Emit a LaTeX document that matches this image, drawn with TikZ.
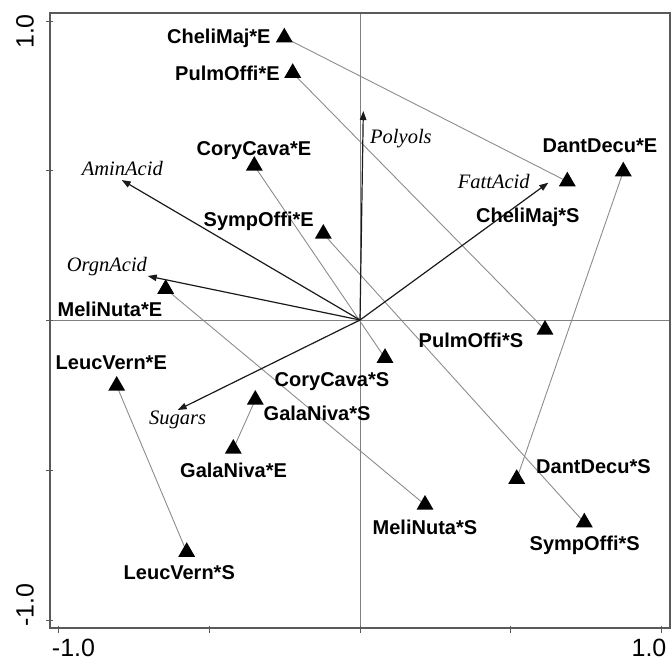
\documentclass[tikz,border=0pt]{standalone}
\usepackage{fontspec}
\setmainfont{Liberation Serif}
\setsansfont{Liberation Sans}
\usetikzlibrary{arrows.meta,shapes.geometric,backgrounds}
\definecolor{framecol}{HTML}{5A5A5A}
\definecolor{axiscol}{HTML}{808080}
\definecolor{linkcol}{HTML}{8C8C8C}
\definecolor{arrcol}{HTML}{1A1A1A}
\tikzset{
  pt/.style={regular polygon, regular polygon sides=3, minimum size=19.6pt, inner sep=0pt, fill=black},
  lab/.style={anchor=base west, inner sep=0pt, font=\sffamily\bfseries\fontsize{20}{21}\selectfont},
  vlab/.style={anchor=base west, inner sep=0pt, font=\rmfamily\itshape\fontsize{20.5}{21}\selectfont},
  tlab/.style={inner sep=0pt, font=\sffamily\fontsize{25}{26}\selectfont},
  link/.style={draw=linkcol, line width=0.9pt},
  vec/.style={draw=arrcol, line width=1.2pt, -{Triangle[length=9pt,width=6.5pt]}},
  axisline/.style={draw=axiscol, line width=0.9pt},
  tick/.style={draw=framecol, line width=1pt}
}
\begin{document}
\begin{tikzpicture}[x=1pt,y=-1pt]
\useasboundingbox (0,0) rectangle (671,664);
% frame corners and axes
\coordinate (fnw) at (50,13.3);
\coordinate (fse) at (670,628.3);
\coordinate (o) at (360,320);
\coordinate (ytop) at (360,13.3);
\coordinate (ybot) at (360,628.3);
\coordinate (xl) at (50,320);
\coordinate (xr) at (670,320);
\draw[axisline] (ytop) -- (ybot);
\draw[axisline] (xl) -- (xr);
\draw[draw=framecol, line width=2pt] (fnw) rectangle (fse);
% ticks
\foreach \yy in {21,170.5,320,470,620}{\draw[tick] (46,\yy) -- (53,\yy);}
\foreach \xx in {58.3,209,360,510.7,661}{\draw[tick] (\xx,625.5) -- (\xx,632.5);}
\node[tlab, rotate=90] (t1) at (25,31.5) {1.0};
\node[tlab, rotate=90] (t2) at (25,605) {-1.0};
\node[tlab, anchor=base] (t3) at (73.5,656) {-1.0};
\node[tlab, anchor=base] (t4) at (649,656) {1.0};
% sample points
\node[pt] (cmE) at (284.3,37.5) {};
\node[pt] (poE) at (292.7,73) {};
\node[pt] (ccE) at (254.3,165.8) {};
\node[pt] (soE) at (323.3,233.8) {};
\node[pt] (mnE) at (165.7,289) {};
\node[pt] (ddE) at (623.3,171.5) {};
\node[pt] (cmS) at (567.3,181.5) {};
\node[pt] (lvE) at (116.7,385.8) {};
\node[pt] (gnS) at (255.3,399.8) {};
\node[pt] (gnE) at (233.3,448.8) {};
\node[pt] (lvS) at (186.7,552) {};
\node[pt] (poS) at (545,329.8) {};
\node[pt] (ccS) at (385,358) {};
\node[pt] (ddS) at (516.7,479) {};
\node[pt] (mnS) at (425,504.8) {};
\node[pt] (soS) at (584.3,522.5) {};
% links
\begin{scope}[on background layer]
\draw[link] (cmE.center) -- (cmS.center);
\draw[link] (poE.center) -- (poS.center);
\draw[link] (ccE.center) -- (ccS.center);
\draw[link] (soE.center) -- (soS.center);
\draw[link] (mnE.center) -- (mnS.center);
\draw[link] (lvE.center) -- (lvS.center);
\draw[link] (gnE.center) -- (gnS.center);
\draw[link] (ddE.center) -- (ddS.center);
\end{scope}
% vectors
\coordinate (vPol) at (363.3,111);
\coordinate (vAmi) at (121.7,180);
\coordinate (vOrg) at (147.7,276);
\coordinate (vFat) at (548.3,182.7);
\coordinate (vSug) at (177.7,410);
\draw[vec] (o) -- (vPol);
\draw[vec] (o) -- (vAmi);
\draw[vec] (o) -- (vOrg);
\draw[vec] (o) -- (vFat);
\draw[vec] (o) -- (vSug);
% vector labels
\node[vlab] (lPol) at (370,143.3) {Polyols};
\node[vlab] (lAmi) at (81.7,175) {AminAcid};
\node[vlab] (lOrg) at (66.7,271.7) {OrgnAcid};
\node[vlab] (lFat) at (457.7,188.3) {FattAcid};
\node[vlab] (lSug) at (149,424) {Sugars};
% point labels
\node[lab] (lcmE) at (167,43.3) {CheliMaj*E};
\node[lab] (lpoE) at (175,80) {PulmOffi*E};
\node[lab] (lccE) at (196.5,155) {CoryCava*E};
\node[lab] (lsoE) at (203.5,226) {SympOffi*E};
\node[lab] (lmnE) at (57.5,316) {MeliNuta*E};
\node[lab] (lddE) at (542.5,152.7) {DantDecu*E};
\node[lab] (lcmS) at (476,222.7) {CheliMaj*S};
\node[lab] (llvE) at (55.5,369.3) {LeucVern*E};
\node[lab] (lccS) at (274.5,386) {CoryCava*S};
\node[lab] (lgnS) at (263.5,420) {GalaNiva*S};
\node[lab] (lgnE) at (180,477.7) {GalaNiva*E};
\node[lab] (llvS) at (123.5,579) {LeucVern*S};
\node[lab] (lpoS) at (418.5,347.3) {PulmOffi*S};
\node[lab] (lddS) at (536,473.3) {DantDecu*S};
\node[lab] (lmnS) at (372.5,534) {MeliNuta*S};
\node[lab] (lsoS) at (529.5,550.7) {SympOffi*S};
\end{tikzpicture}
\end{document}
